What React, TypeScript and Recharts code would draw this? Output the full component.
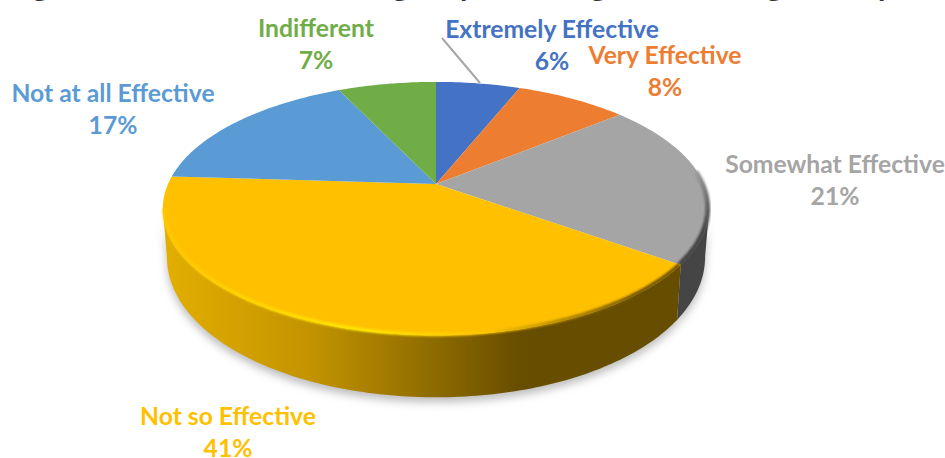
import { PieChart, Pie } from "recharts";

const categories = ["Extremely Effective", "Very Effective", "Somewhat Effective", "Not so Effective", "Not at all Effective", "Indifferent"];
const shares = [6, 8, 21, 41, 17, 7];
const sliceColors = ["#4472C4", "#ED7D31", "#A5A5A5", "#FFC000", "#5B9BD5", "#70AD47"];
const labelCenters = [
  [552, 38],
  [665, 64],
  [835, 173],
  [228, 425],
  [113, 102],
  [316, 37],
];
// descenders of the heading that runs off the top edge
const headingGlyphs = ["g", "g", "p", "g", "g", "p"];
const headingGlyphX = [32, 392, 460, 590, 766, 878];

const chartData = categories.map((name, i) => ({ name, value: shares[i], fill: sliceColors[i] }));

const CX = 436;
const CY = 184;
const RADIUS = 268;
const SQUASH = 0.455;
const TILT = 0.194;
const FONT = "Lato, sans-serif";

// Tilted-disc projection: the hub stays at (cx, cy) and the far side shrinks.
const project = (angle: number, cx: number, cy: number, r: number, lift = 0) => {
  const rad = (angle * Math.PI) / 180;
  const u = Math.cos(rad);
  const v = Math.sin(rad);
  const w = 1 + TILT * v;
  const depth = lift ? lift - 17 * v : 0;
  const spread = lift ? 0.985 : 1;
  return {
    x: cx + ((r * u) / w) * spread,
    y: cy - (r * SQUASH * v) / w + depth,
  };
};

const arcPoints = (from: number, to: number, cx: number, cy: number, r: number, lift = 0) => {
  const steps = Math.max(2, Math.ceil(Math.abs(from - to)));
  const pts = [];
  for (let i = 0; i <= steps; i++) {
    pts.push(project(from + ((to - from) * i) / steps, cx, cy, r, lift));
  }
  return pts;
};

const toPath = (pts: { x: number; y: number }[]) =>
  pts.map((p, i) => `${i ? "L" : "M"}${p.x.toFixed(1)},${p.y.toFixed(1)}`).join(" ");

// Front of the disc runs between the two silhouette points of the projection.
const FRONT_START = -(Math.asin(TILT) * 180) / Math.PI; // right side
const FRONT_END = -180 - FRONT_START; // left side

const frontRange = (startAngle: number, endAngle: number) => {
  const from = Math.min(startAngle, FRONT_START);
  const to = Math.max(endAngle, FRONT_END);
  return from > to ? [from, to] : null;
};

const wallPath = (startAngle: number, endAngle: number, cx: number, cy: number, r: number) => {
  const range = frontRange(startAngle, endAngle);
  if (!range) return null;
  const upper = arcPoints(range[0], range[1], cx, cy, r);
  const lower = arcPoints(range[1], range[0], cx, cy, r, 45);
  return `${toPath(upper)} ${toPath(lower).replace("M", "L")} Z`;
};

const ShadowSector = (props: any) => {
  const d = wallPath(props.startAngle, props.endAngle, props.cx, props.cy, props.outerRadius);
  if (!d) return <g />;
  return <path d={d} fill="#bdbdbd" filter="url(#pieShadow)" transform="translate(0 5)" />;
};

const DiscSector = (props: any) => {
  const { cx, cy, outerRadius, startAngle, endAngle, fill, index } = props;
  const wall = wallPath(startAngle, endAngle, cx, cy, outerRadius);
  const top = [{ x: cx, y: cy }, ...arcPoints(startAngle, endAngle, cx, cy, outerRadius)];
  const range = frontRange(startAngle, endAngle);
  const rimFrom = index === 2 ? 6 : range ? range[0] : 0;
  const rimTo = range ? range[1] : 0;
  return (
    <g>
      {wall && <path d={wall} fill={index === 3 ? "url(#yellowWall)" : "#454545"} />}
      <path d={`${toPath(top)} Z`} fill={fill} />
      {wall && (
        <path
          d={toPath(arcPoints(rimFrom, rimTo, cx, cy, outerRadius - 1.5))}
          fill="none"
          stroke={index === 3 ? "url(#yellowRim)" : "url(#greyRim)"}
          strokeWidth={index === 3 ? 3.5 : 5}
          filter="url(#rimSoft)"
        />
      )}
    </g>
  );
};

const SliceLabel = (props: any) => {
  const { index, name, value } = props;
  const [x, y] = labelCenters[index];
  const color = sliceColors[index];
  return (
    <g>
      {index === 0 && <line x1={442} y1={38} x2={480} y2={83} stroke="#A6A6A6" strokeWidth={2} />}
      <text x={x} y={y} textAnchor="middle" fill={color} fontFamily={FONT} fontWeight={700} fontSize={24.7}>
        {name}
      </text>
      <text x={x} y={y + 32} textAnchor="middle" fill={color} fontFamily={FONT} fontWeight={700} fontSize={24.7}>
        {`${value}%`}
      </text>
    </g>
  );
};

export default function App() {
  return (
    <div style={{ position: "absolute", left: 0, top: 0, width: 945, height: 458, background: "#fff", overflow: "hidden" }}>
      <PieChart width={945} height={458} margin={{ top: 0, right: 0, bottom: 0, left: 0 }}>
        <defs>
          <linearGradient id="yellowWall" gradientUnits="userSpaceOnUse" x1={165} y1={0} x2={520} y2={0}>
            <stop offset="0" stopColor="#E2AE00" />
            <stop offset="0.4" stopColor="#C49400" />
            <stop offset="0.75" stopColor="#8F6C00" />
            <stop offset="1" stopColor="#674D00" />
          </linearGradient>
          <linearGradient id="yellowRim" gradientUnits="userSpaceOnUse" x1={165} y1={0} x2={640} y2={0}>
            <stop offset="0" stopColor="#FFC800" />
            <stop offset="0.4" stopColor="#FFE800" />
            <stop offset="0.68" stopColor="#FFC400" />
            <stop offset="0.86" stopColor="#A88000" />
            <stop offset="1" stopColor="#6A5000" />
          </linearGradient>
          <linearGradient id="greyRim" gradientUnits="userSpaceOnUse" x1={685} y1={170} x2={705} y2={230}>
            <stop offset="0" stopColor="#A5A5A5" />
            <stop offset="1" stopColor="#454545" />
          </linearGradient>
          <filter id="pieShadow" x="-20%" y="-20%" width="140%" height="140%">
            <feGaussianBlur stdDeviation="4" />
          </filter>
          <filter id="rimSoft" x="-10%" y="-10%" width="120%" height="120%">
            <feGaussianBlur stdDeviation="1.2" />
          </filter>
        </defs>
        {headingGlyphs.map((glyph, i) => (
          <text key={i} x={headingGlyphX[i]} y={-4} fill="#333" fontFamily={FONT} fontWeight={700} fontSize={30}>
            {glyph}
          </text>
        ))}
        <Pie
          data={chartData}
          dataKey="value"
          cx={CX}
          cy={CY}
          outerRadius={RADIUS}
          startAngle={90}
          endAngle={-270}
          stroke="none"
          shape={ShadowSector}
          isAnimationActive={false}
        />
        <Pie
          data={chartData}
          dataKey="value"
          nameKey="name"
          cx={CX}
          cy={CY}
          outerRadius={RADIUS}
          startAngle={90}
          endAngle={-270}
          stroke="none"
          shape={DiscSector}
          label={SliceLabel}
          labelLine={false}
          isAnimationActive={false}
        />
      </PieChart>
    </div>
  );
}
